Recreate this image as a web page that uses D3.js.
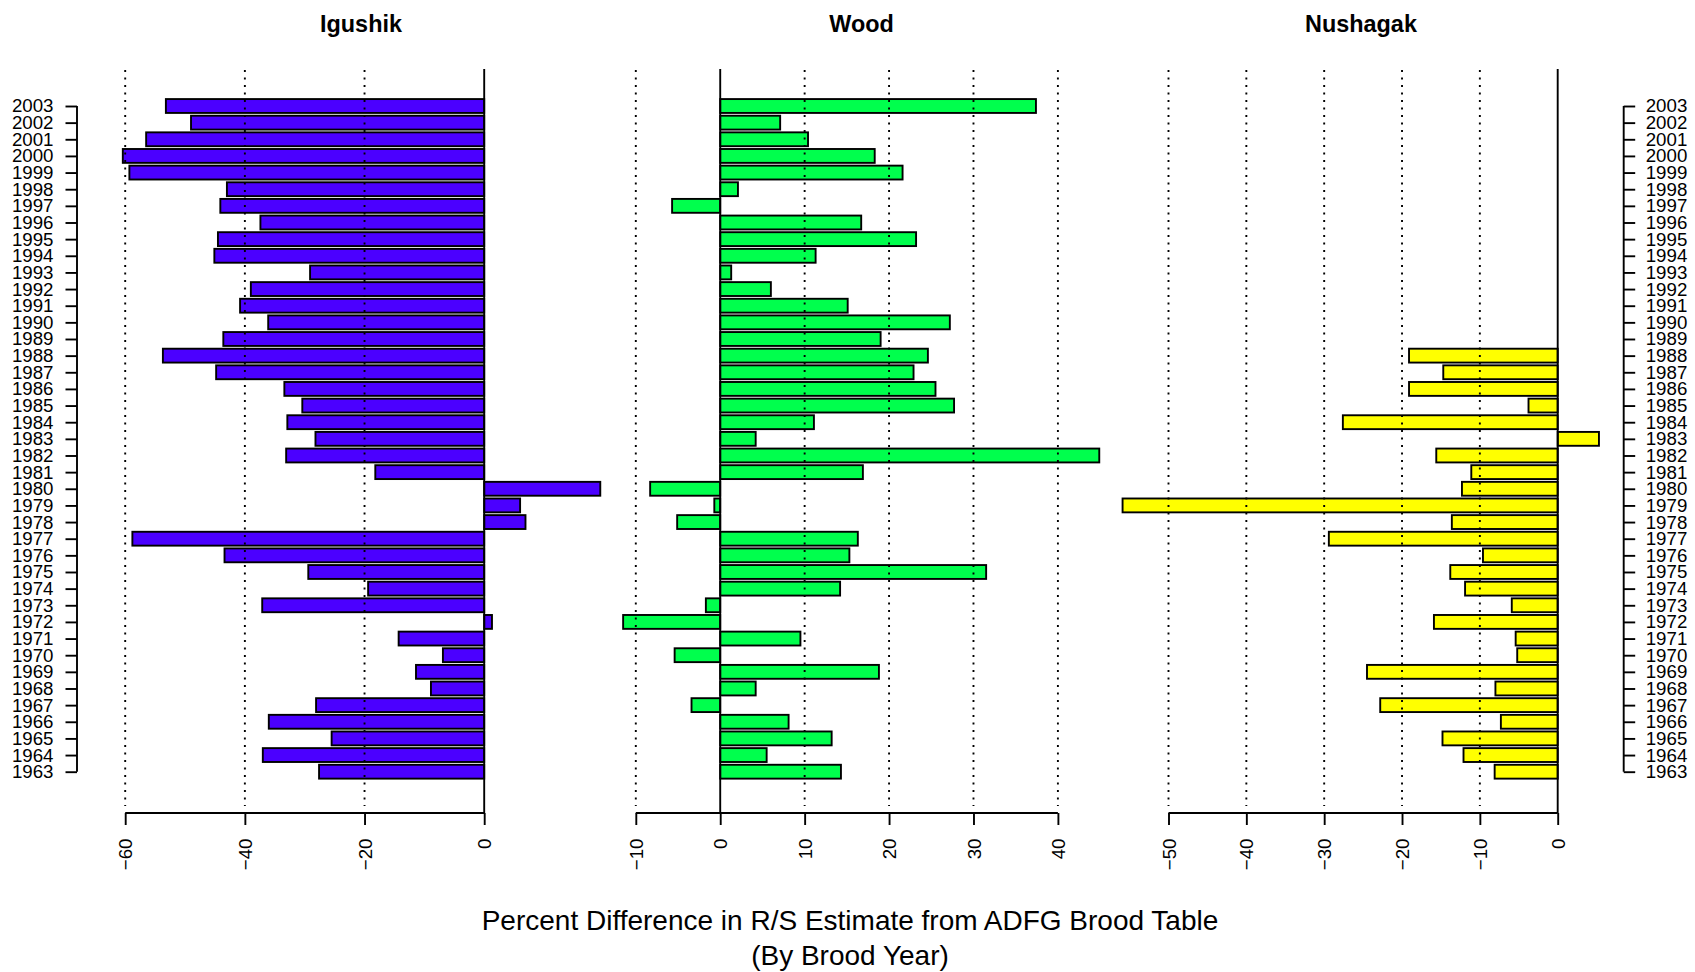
<!DOCTYPE html>
<html>
<head>
<meta charset="utf-8">
<script src="https://cdn.jsdelivr.net/npm/d3@7"></script>
<style>
  html, body { margin: 0; padding: 0; background: #fff; }
  svg { display: block; font-family: "Liberation Sans", Arial, Helvetica, sans-serif; }
</style>
</head>
<body>
<svg id="chart" width="1695" height="972"></svg>
<script>
// ---------------- data ----------------
const years = [1963,1964,1965,1966,1967,1968,1969,1970,1971,1972,1973,1974,1975,1976,1977,1978,1979,1980,1981,1982,1983,1984,1985,1986,1987,1988,1989,1990,1991,1992,1993,1994,1995,1996,1997,1998,1999,2000,2001,2002,2003];

const igushik = [-27.6,-37.0,-25.5,-36.0,-28.1,-8.9,-11.4,-6.9,-14.3,1.3,-37.1,-19.4,-29.4,-43.4,-58.8,6.9,6.0,19.4,-18.2,-33.1,-28.2,-32.9,-30.4,-33.4,-44.8,-53.7,-43.6,-36.1,-40.8,-39.0,-29.1,-45.1,-44.5,-37.4,-44.1,-43.0,-59.3,-60.4,-56.5,-49.0,-53.2];

const wood = [14.3,5.5,13.2,8.1,-3.4,4.2,18.8,-5.4,9.5,-11.5,-1.7,14.2,31.5,15.3,16.3,-5.1,-0.7,-8.3,16.9,44.9,4.2,11.1,27.7,25.5,22.9,24.6,19.0,27.2,15.1,6.0,1.3,11.3,23.2,16.7,-5.7,2.1,21.6,18.3,10.4,7.1,37.4];

const nushagak = [-8.1,-12.1,-14.8,-7.3,-22.8,-8.0,-24.5,-5.2,-5.4,-15.9,-5.9,-11.9,-13.8,-9.6,-29.4,-13.6,-55.9,-12.3,-11.1,-15.6,5.3,-27.6,-3.75,-19.1,-14.7,-19.1,null,null,null,null,null,null,null,null,null,null,null,null,null,null,null];

const panelNames = ["Igushik", "Wood", "Nushagak"];
const igushikTicks = [-60, -40, -20, 0];
const woodTicks = [-10, 0, 10, 20, 30, 40];
const nushagakTicks = [-50, -40, -30, -20, -10, 0];
const xTitleLines = ["Percent Difference in R/S Estimate from ADFG Brood Table", "(By Brood Year)"];

// ---------------- layout ----------------
const svg = d3.select("#chart");
const plotTop = 70, plotBottom = 806, axisY = 813;
const LW = 1.9;
const FS = 18.7;

const y = d3.scaleLinear().domain([1963, 2003]).range([771.7, 106]);
const barH = (y(1963) - y(1964)) / 1.2;

const panels = [
  { name: panelNames[0], values: igushik, ticks: igushikTicks, color: "#4b00ff",
    x: d3.scaleLinear().domain([-60, 0]).range([125.2, 484.2]), titleX: 361 },
  { name: panelNames[1], values: wood, ticks: woodTicks, color: "#00ff4d",
    x: d3.scaleLinear().domain([-10, 40]).range([635.8, 1057.9]), titleX: 861.5 },
  { name: panelNames[2], values: nushagak, ticks: nushagakTicks, color: "#ffff00",
    x: d3.scaleLinear().domain([-50, 0]).range([1168.5, 1557.7]), titleX: 1361 }
];

panels.forEach(p => {
  const g = svg.append("g");
  const data = years.map((yr, i) => ({ yr, v: p.values[i] })).filter(d => d.v !== null);

  // bars
  g.selectAll("rect.bar").data(data).enter().append("rect")
    .attr("class", "bar")
    .attr("x", d => Math.min(p.x(0), p.x(d.v)))
    .attr("width", d => Math.abs(p.x(d.v) - p.x(0)))
    .attr("y", d => y(d.yr) - barH / 2)
    .attr("height", barH)
    .attr("fill", p.color)
    .attr("stroke", "#000")
    .attr("stroke-width", LW);

  // dotted grid lines
  g.selectAll("line.grid").data(p.ticks.filter(t => t !== 0)).enter().append("line")
    .attr("x1", d => p.x(d)).attr("x2", d => p.x(d))
    .attr("y1", plotTop).attr("y2", plotBottom)
    .attr("stroke", "#000").attr("stroke-width", LW)
    .attr("stroke-dasharray", "1.9,5.6");

  // zero line
  g.append("line")
    .attr("x1", p.x(0)).attr("x2", p.x(0))
    .attr("y1", plotTop - 1).attr("y2", axisY)
    .attr("stroke", "#000").attr("stroke-width", LW);

  // bottom axis
  const ax = d3.axisBottom(p.x).tickValues(p.ticks).tickSize(12).tickSizeOuter(0)
    .tickFormat(d => d < 0 ? "\u2212" + Math.abs(d) : String(d));
  const axG = g.append("g").attr("transform", `translate(0,${axisY})`).call(ax);
  axG.select(".domain").attr("stroke", "#000").attr("stroke-width", LW)
    .attr("d", `M${p.x(d3.min(p.ticks))},0H${p.x(d3.max(p.ticks))}`);
  axG.selectAll(".tick line").attr("stroke", "#000").attr("stroke-width", LW);
  axG.selectAll(".tick text")
    .attr("font-size", FS).attr("fill", "#000")
    .attr("font-family", "Liberation Sans, Arial, sans-serif")
    .attr("transform", "rotate(-90)")
    .attr("x", -25.5).attr("y", 0).attr("dy", "0.35em")
    .attr("text-anchor", "end");

  // title
  svg.append("text")
    .attr("x", p.titleX).attr("y", 32)
    .attr("text-anchor", "middle")
    .attr("font-weight", "bold")
    .attr("font-size", 23.4)
    .text(p.name);
});

// left year axis
const yAxisL = d3.axisLeft(y).tickValues(years).tickSize(11.5).tickSizeOuter(0).tickFormat(d3.format("d"));
const gl = svg.append("g").attr("transform", "translate(77,0)").call(yAxisL);
gl.select(".domain").attr("stroke-width", LW).attr("d", `M0,${y(2003)}V${y(1963)}`);
gl.selectAll(".tick line").attr("stroke-width", LW);
gl.selectAll(".tick text").attr("font-size", FS).attr("x", -23.5).attr("fill", "#000")
  .attr("font-family", "Liberation Sans, Arial, sans-serif");

// right year axis
const yAxisR = d3.axisRight(y).tickValues(years).tickSize(11.5).tickSizeOuter(0).tickFormat(d3.format("d"));
const gr = svg.append("g").attr("transform", "translate(1623.7,0)").call(yAxisR);
gr.select(".domain").attr("stroke-width", LW).attr("d", `M0,${y(2003)}V${y(1963)}`);
gr.selectAll(".tick line").attr("stroke-width", LW);
gr.selectAll(".tick text").attr("font-size", FS).attr("x", 22).attr("fill", "#000")
  .attr("font-family", "Liberation Sans, Arial, sans-serif");

// x-axis title
svg.append("g").selectAll("text").data(xTitleLines).enter().append("text")
  .attr("x", 850).attr("y", (d, i) => 930 + i * 34.5)
  .attr("text-anchor", "middle")
  .attr("font-size", 28)
  .text(d => d);
</script>
</body>
</html>
